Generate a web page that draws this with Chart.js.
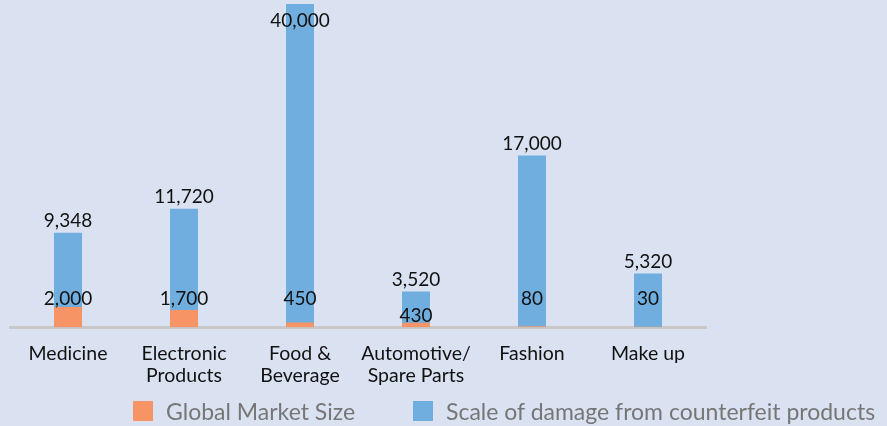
<!DOCTYPE html>
<html>
<head>
<meta charset="utf-8">
<script src="https://cdn.jsdelivr.net/npm/chart.js@4/dist/chart.umd.min.js"></script>
<style>
  body { margin: 0; background: #dae2f1; }
  #wrap { position: relative; width: 887px; height: 426px; }
  #legend {
    position: absolute; left: 133px; top: 399px; height: 24px;
    display: flex; align-items: center; white-space: nowrap;
    font: 23px Lato, "Noto Sans", sans-serif; color: #767676;
  }
  #legend .item { display: flex; align-items: center; margin-right: 58px; }
  #legend .box { width: 20px; height: 20px; margin-right: 13px; }
</style>
</head>
<body>
<div id="wrap">
  <canvas id="chart" width="887" height="426"></canvas>
  <div id="legend"></div>
</div>
<script>
// data
const categories = ['Medicine', ['Electronic', 'Products'], ['Food &', 'Beverage'], ['Automotive/', 'Spare Parts'], 'Fashion', 'Make up'];
const marketSize = [2000, 1700, 450, 430, 80, 30];
const damage = [9348, 11720, 40000, 3520, 17000, 5320];
const seriesNames = ['Global Market Size', 'Scale of damage from counterfeit products'];

const FONT = 'Lato, "Noto Sans", sans-serif';

// value labels above / inside the bars
const valueLabels = {
  id: 'valueLabels',
  afterDatasetsDraw(chart) {
    const ctx = chart.ctx;
    const area = chart.chartArea;
    const base = chart.scales.y.getPixelForValue(0);
    const blue = chart.getDatasetMeta(1).data;
    ctx.save();
    ctx.font = '19px ' + FONT;
    ctx.fillStyle = '#111';
    ctx.textAlign = 'center';
    ctx.textBaseline = 'middle';
    blue.forEach((bar, i) => {
      let y = bar.y - 12;
      if (y < area.top + 17) y = area.top + 17;
      ctx.fillText(damage[i].toLocaleString('en-US'), bar.x, y);
      // market size label sits low, dropped further if the bar is short
      let y2 = base - 28;
      if (base - bar.y < 40) y2 = base - 11;
      ctx.fillText(marketSize[i].toLocaleString('en-US'), bar.x, y2);
    });
    ctx.restore();
  }
};

// legend built from the chart's own legend items
const htmlLegend = {
  id: 'htmlLegend',
  afterUpdate(chart) {
    const box = document.getElementById('legend');
    box.innerHTML = '';
    chart.options.plugins.legend.labels.generateLabels(chart).forEach(item => {
      const el = document.createElement('div');
      el.className = 'item';
      const sw = document.createElement('span');
      sw.className = 'box';
      sw.style.background = item.fillStyle;
      el.appendChild(sw);
      el.appendChild(document.createTextNode(item.text));
      box.appendChild(el);
    });
  }
};

new Chart(document.getElementById('chart'), {
  type: 'bar',
  data: {
    labels: categories,
    datasets: [{
      label: seriesNames[0],
      data: marketSize,
      backgroundColor: '#f79465',
      grouped: false,
      categoryPercentage: 1,
      barPercentage: 0.2414
    }, {
      label: seriesNames[1],
      data: damage,
      backgroundColor: '#6faedf',
      grouped: false,
      categoryPercentage: 1,
      barPercentage: 0.2414
    }]
  },
  options: {
    responsive: false,
    animation: false,
    layout: { padding: { left: 10, right: 181, top: 4, bottom: 32 } },
    plugins: {
      tooltip: { enabled: false },
      legend: { display: false }
    },
    scales: {
      x: {
        grid: { display: false },
        border: { display: true, color: '#c8c8c8', width: 3 },
        ticks: {
          color: '#111',
          font: { family: FONT, size: 19.5, lineHeight: 1.15 },
          padding: 7,
          maxRotation: 0
        }
      },
      y: {
        display: false,
        min: 0,
        max: 32000
      }
    }
  },
  plugins: [valueLabels, htmlLegend]
});
</script>
</body>
</html>
